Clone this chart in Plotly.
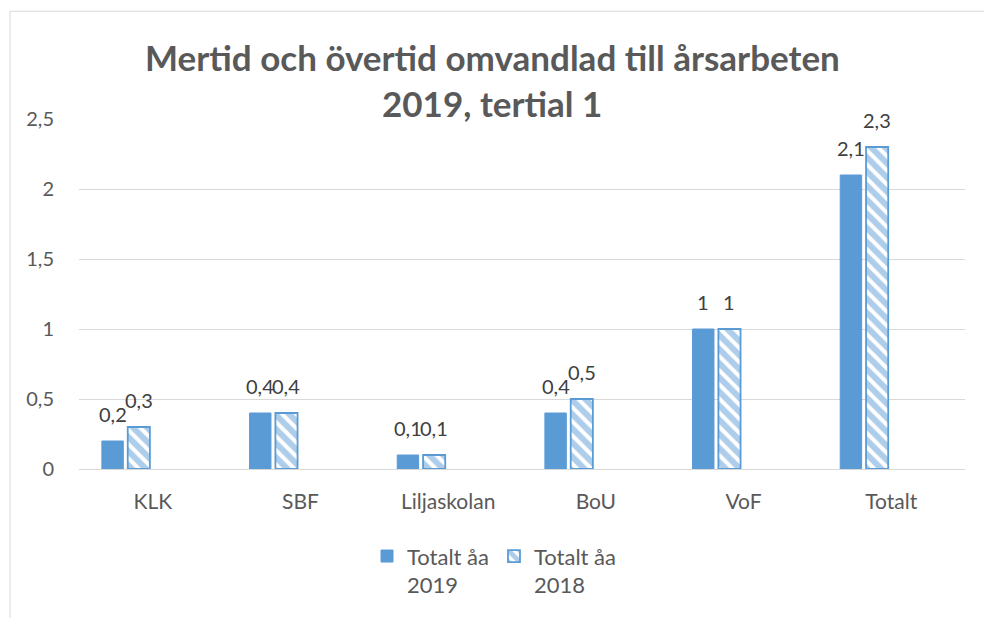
import plotly.graph_objects as go

categories = ["KLK", "SBF", "Liljaskolan", "BoU", "VoF", "Totalt"]
values_2019 = [0.2, 0.4, 0.1, 0.4, 1.0, 2.1]
values_2018 = [0.3, 0.4, 0.1, 0.5, 1.0, 2.3]
series_names = ["Totalt åa<br>2019", "Totalt åa<br>2018"]
title_lines = ["Mertid och övertid omvandlad till årsarbeten", "2019, tertial 1"]
y_ticks = [0, 0.5, 1, 1.5, 2, 2.5]

BLUE = "#5B9BD5"
TXT = "#404040"
AX = "#595959"
FONT = "Lato, Calibri, sans-serif"

L, R, T, B = 79, 19, 119, 145
W, H = 984 - L - R, 618 - T - B
CAT_PX = W / len(categories)

OFF1, WID1 = -0.345, 0.145
OFF2, WID2 = -0.17, 0.15


def fmt(v):
    return ("%g" % v).replace(".", ",")


def px_x(p):
    return (p - L) / W


def px_y(p):
    return (618 - B - p) / H


fig = go.Figure()
fig.add_trace(go.Bar(
    x=categories, y=values_2019, name=series_names[0],
    marker=dict(color=BLUE, line=dict(color=BLUE, width=1)),
    offset=OFF1, width=WID1,
))
fig.add_trace(go.Bar(
    x=categories, y=values_2018, name=series_names[1],
    marker=dict(color="white", line=dict(color=BLUE, width=1.8),
                pattern=dict(shape="\\", fgcolor=BLUE, bgcolor="white", size=10, solidity=0.6)),
    offset=OFF2, width=WID2,
))

annotations = [
    dict(text="<b>%s</b>" % title_lines[0], x=px_x(492), y=px_y(56), xref="paper", yref="paper",
         showarrow=False, xanchor="center", yanchor="middle", font=dict(size=35, color=AX, family=FONT)),
    dict(text="<b>%s</b>" % title_lines[1], x=px_x(492), y=px_y(103), xref="paper", yref="paper",
         showarrow=False, xanchor="center", yanchor="middle", font=dict(size=35, color=AX, family=FONT)),
]

for vals, off, wid in ((values_2019, OFF1, WID1), (values_2018, OFF2, WID2)):
    shift = (off + wid / 2) * CAT_PX
    for c, v in zip(categories, vals):
        annotations.append(dict(
            text=fmt(v), x=c, y=v, xref="x", yref="y", xshift=shift, yshift=13,
            showarrow=False, xanchor="center", yanchor="bottom",
            font=dict(size=20, color=TXT, family=FONT),
        ))

shapes = [
    dict(type="line", xref="paper", yref="paper", x0=px_x(10), x1=px_x(990), y0=px_y(10), y1=px_y(10),
         line=dict(color="#D9D9D9", width=1)),
    dict(type="line", xref="paper", yref="paper", x0=px_x(10), x1=px_x(10), y0=px_y(10), y1=px_y(625),
         line=dict(color="#D9D9D9", width=1)),
]

fig.update_layout(
    width=984, height=618,
    margin=dict(l=L, r=R, t=T, b=B),
    paper_bgcolor="white", plot_bgcolor="white",
    barmode="overlay",
    separators=", ",
    font=dict(family=FONT, size=20, color=TXT),
    annotations=annotations,
    shapes=shapes,
    showlegend=True,
    legend=dict(orientation="h", x=px_x(494), xanchor="center", y=px_y(540), yanchor="top",
                font=dict(size=22, color=AX, family=FONT), valign="top",
                itemwidth=30, traceorder="normal"),
    xaxis=dict(showgrid=False, showline=False, ticks="", tickfont=dict(size=21, color=AX),
               ticklabelstandoff=18),
    yaxis=dict(range=[0, 2.5], tickvals=y_ticks, ticktext=[fmt(v) for v in y_ticks],
               showgrid=True, gridcolor="#D9D9D9", gridwidth=1, zeroline=True, zerolinecolor="#D9D9D9",
               zerolinewidth=1, showline=False, ticks="", tickfont=dict(size=20, color=AX),
               ticklabelstandoff=24),
)

fig.write_html("out.html", config={"displayModeBar": False},
               post_script="document.body.style.margin='0';")
